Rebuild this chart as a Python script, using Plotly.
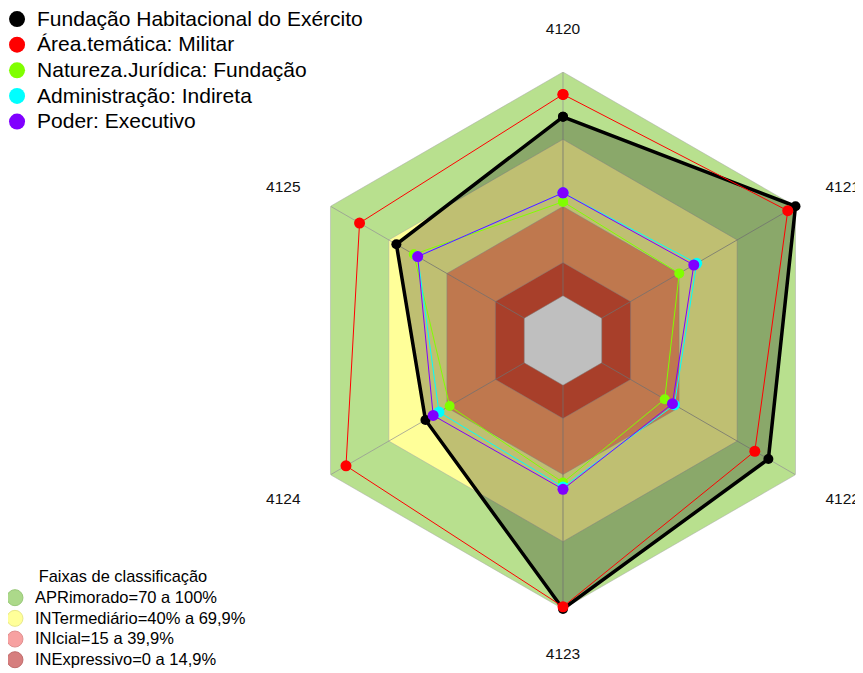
import plotly.graph_objects as go

CATEGORIES = ["4120", "4121", "4122", "4123", "4124", "4125"]

SERIES_NAMES = [
    "Fundação Habitacional do Exército",
    "Área.temática: Militar",
    "Natureza.Jurídica: Fundação",
    "Administração: Indireta",
    "Poder: Executivo",
]
FHE = [80, 100, 86, 100, 51, 66]
MILITAR = [90, 96, 79, 99, 92, 85]
FUNDACAO = [42, 40, 32.5, 43.5, 38.5, 57]
INDIRETA = [46, 49, 37.5, 45.5, 44, 55]
EXECUTIVO = [46, 47.5, 36.5, 46.5, 47, 55]

BAND_NAMES = [
    "APRimorado=70 a 100%",
    "INTermediário=40% a 69,9%",
    "INIcial=15 a 39,9%",
    "INExpressivo=0 a 14,9%",
]
BAND_UPPER = [100, 69.9, 39.9, 14.9]
BAND_TITLE = "Faixas de classificação"

# styles
SERIES_COLORS = ["#000000", "#ff0000", "#80ff00", "#00ffff", "#8000ff"]
SERIES_WIDTHS = [3.5, 1, 1, 1, 1]
SERIES_MSIZE = [10, 11, 10, 11, 11]
BAND_FILL = ["#b8e08e", "#ffff99", "#ffa069", "#e05538"]
BAND_LEGEND = ["#acd98a", "#ffff99", "#f7a1a1", "#d67e7e"]
BAND_LEGEND_LINE = ["#98c878", "#e8e888", "#e09090", "#c06c6c"]
FONT = "Liberation Sans, Arial, sans-serif"

fig = go.Figure()


def closed(vals):
    return list(vals) + [vals[0]]


theta_c = closed(CATEGORIES)

# bands
for name, up, col in zip(BAND_NAMES, BAND_UPPER, BAND_FILL):
    fig.add_trace(go.Scatterpolar(
        r=closed([up] * len(CATEGORIES)), theta=theta_c, mode="lines",
        fill="toself", fillcolor=col,
        line=dict(color="rgba(170,170,170,0.5)", width=1),
        showlegend=False, hoverinfo="skip"))
# white centre (below 0)
fig.add_trace(go.Scatterpolar(
    r=closed([0] * len(CATEGORIES)), theta=theta_c, mode="lines",
    fill="toself", fillcolor="#ffffff",
    line=dict(color="rgba(170,170,170,0.5)", width=1),
    showlegend=False, hoverinfo="skip"))

# spokes
sr, st = [], []
for c in CATEGORIES:
    sr += [0, 100, None]
    st += [c, c, None]
fig.add_trace(go.Scatterpolar(
    r=sr, theta=st, mode="lines", connectgaps=False,
    line=dict(color="rgba(150,150,150,0.75)", width=1),
    showlegend=False, hoverinfo="skip"))

# series
all_series = [FHE, MILITAR, FUNDACAO, INDIRETA, EXECUTIVO]
for i, (name, vals) in enumerate(zip(SERIES_NAMES, all_series)):
    fig.add_trace(go.Scatterpolar(
        r=closed(vals), theta=theta_c, mode="lines+markers", name=name,
        line=dict(color=SERIES_COLORS[i], width=SERIES_WIDTHS[i]),
        marker=dict(color=SERIES_COLORS[i], size=SERIES_MSIZE[i]),
        fill="toself" if i == 0 else None,
        fillcolor="rgba(0,0,0,0.25)" if i == 0 else None,
        showlegend=False))

# legend proxies
for i, name in enumerate(SERIES_NAMES):
    fig.add_trace(go.Scatterpolar(
        r=[None], theta=[None], mode="markers",
        name='<span style="font-size:21px">%s</span>' % name,
        marker=dict(color=SERIES_COLORS[i], size=16),
        legend="legend", showlegend=True))
for i, name in enumerate(BAND_NAMES):
    fig.add_trace(go.Scatterpolar(
        r=[None], theta=[None], mode="markers",
        name='<span style="font-size:16.5px">%s</span>' % name,
        marker=dict(color=BAND_LEGEND[i], size=16,
                    line=dict(color=BAND_LEGEND_LINE[i], width=1)),
        legend="legend2", showlegend=True))

fig.update_layout(
    width=863, height=673,
    margin=dict(l=0, r=0, t=0, b=0, autoexpand=False),
    paper_bgcolor="white", plot_bgcolor="white",
    font=dict(family=FONT, color="#000000"),
    polar=dict(
        domain=dict(x=[0.3320, 0.9542], y=[0.1070, 0.9049]),
        bgcolor="rgba(0,0,0,0)",
        radialaxis=dict(range=[-20, 100], visible=False),
        angularaxis=dict(type="category", categoryarray=CATEGORIES,
                         direction="clockwise", rotation=90,
                         showgrid=False, showline=False,
                         showticklabels=True, ticks="outside", ticklen=31,
                         tickcolor="rgba(0,0,0,0)",
                         tickfont=dict(size=15.5, family=FONT, color="#111111")),
    ),
    legend=dict(x=-0.0127, y=1.01, xanchor="left", yanchor="top",
                font=dict(size=17.4, family=FONT, color="#000000"),
                bgcolor="rgba(0,0,0,0)", tracegroupgap=0),
    legend2=dict(x=-0.0151, y=0.0074, xanchor="left", yanchor="bottom",
                 title=dict(text=BAND_TITLE, side="top center",
                            font=dict(size=16.4, family=FONT)),
                 font=dict(size=13.6, family=FONT, color="#000000"),
                 bgcolor="rgba(0,0,0,0)", tracegroupgap=0),
    showlegend=True,
)

fig.write_html("out.html")
